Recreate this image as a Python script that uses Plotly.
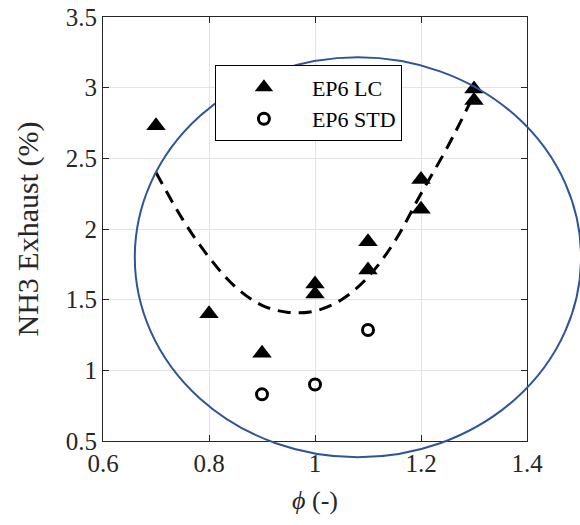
import plotly.graph_objects as go

# Data
lc_phi = [0.7, 0.8, 0.9, 1.0, 1.0, 1.1, 1.1, 1.2, 1.2, 1.3, 1.3]
lc_nh3 = [2.73, 1.40, 1.12, 1.61, 1.54, 1.91, 1.71, 2.35, 2.14, 2.99, 2.91]

std_phi = [0.9, 1.0, 1.1]
std_nh3 = [0.83, 0.90, 1.285]

fit_phi = [0.70, 0.75, 0.80, 0.85, 0.90, 0.95, 1.00, 1.05, 1.10, 1.15, 1.20, 1.25, 1.30]
fit_nh3 = [2.40, 2.07, 1.80, 1.59, 1.46, 1.41, 1.42, 1.50, 1.66, 1.91, 2.25, 2.58, 2.95]

# Highlight ellipse (data units): centre and half-axes
ell_center = (1.081, 1.80)
ell_radius = (0.421, 1.415)

x_range = [0.6, 1.4]
y_range = [0.5, 3.5]
x_ticks = [0.6, 0.8, 1.0, 1.2, 1.4]
x_ticktext = ["0.6", "0.8", "1", "1.2", "1.4"]
y_ticks = [0.5, 1.0, 1.5, 2.0, 2.5, 3.0, 3.5]
y_ticktext = ["0.5", "1", "1.5", "2", "2.5", "3", "3.5"]

FONT = "Liberation Serif"
AX = "#262626"

fig = go.Figure()
fig.add_trace(go.Scatter(
    x=fit_phi, y=fit_nh3, mode="lines",
    line=dict(color="black", width=3, dash="13px,8px", shape="spline"),
    showlegend=False, hoverinfo="skip"))
fig.add_trace(go.Scatter(
    x=lc_phi, y=lc_nh3, mode="markers", name="EP6 LC",
    marker=dict(symbol="triangle-up", size=17, color="black")))
fig.add_trace(go.Scatter(
    x=std_phi, y=std_nh3, mode="markers", name="EP6 STD",
    marker=dict(symbol="circle-open", size=11, color="black", line=dict(width=3, color="black"))))


def to_paper_x(v):
    return (v - x_range[0]) / (x_range[1] - x_range[0])


def to_paper_y(v):
    return (v - y_range[0]) / (y_range[1] - y_range[0])


cx, cy = ell_center
rx, ry = ell_radius
fig.add_shape(type="circle", xref="paper", yref="paper",
              x0=to_paper_x(cx - rx), x1=to_paper_x(cx + rx),
              y0=to_paper_y(cy - ry), y1=to_paper_y(cy + ry),
              line=dict(color="#2f5597", width=2), layer="above")

axis_common = dict(
    showline=True, linecolor=AX, linewidth=1, mirror="ticks",
    ticks="inside", ticklen=6, tickcolor=AX, automargin=False,
    showgrid=True, gridcolor="#e3e3e3", gridwidth=1, zeroline=False,
    tickfont=dict(family=FONT, size=25, color=AX),
)

fig.update_xaxes(range=x_range, tickvals=x_ticks, ticktext=x_ticktext,
                 title=dict(text="<i>ϕ</i> (-)", font=dict(family=FONT, size=26, color=AX), standoff=14),
                 **axis_common)
fig.update_yaxes(range=y_range, tickvals=y_ticks, ticktext=y_ticktext,
                 title=dict(text="NH3 Exhaust (%)", font=dict(family=FONT, size=30, color=AX), standoff=18),
                 **axis_common)

fig.update_layout(
    width=580, height=525,
    margin=dict(l=103, r=53, t=17, b=84),
    paper_bgcolor="white", plot_bgcolor="white",
    font=dict(family=FONT, color=AX),
    legend=dict(x=0.264, y=0.886, xanchor="left", yanchor="top",
                bgcolor="white", bordercolor="black", borderwidth=1,
                font=dict(family=FONT, size=22, color="black"),
                itemwidth=86, tracegroupgap=0),
)

fig.write_html("out.html", config={"displayModeBar": False},
               post_script="document.body.style.margin='0px';")
